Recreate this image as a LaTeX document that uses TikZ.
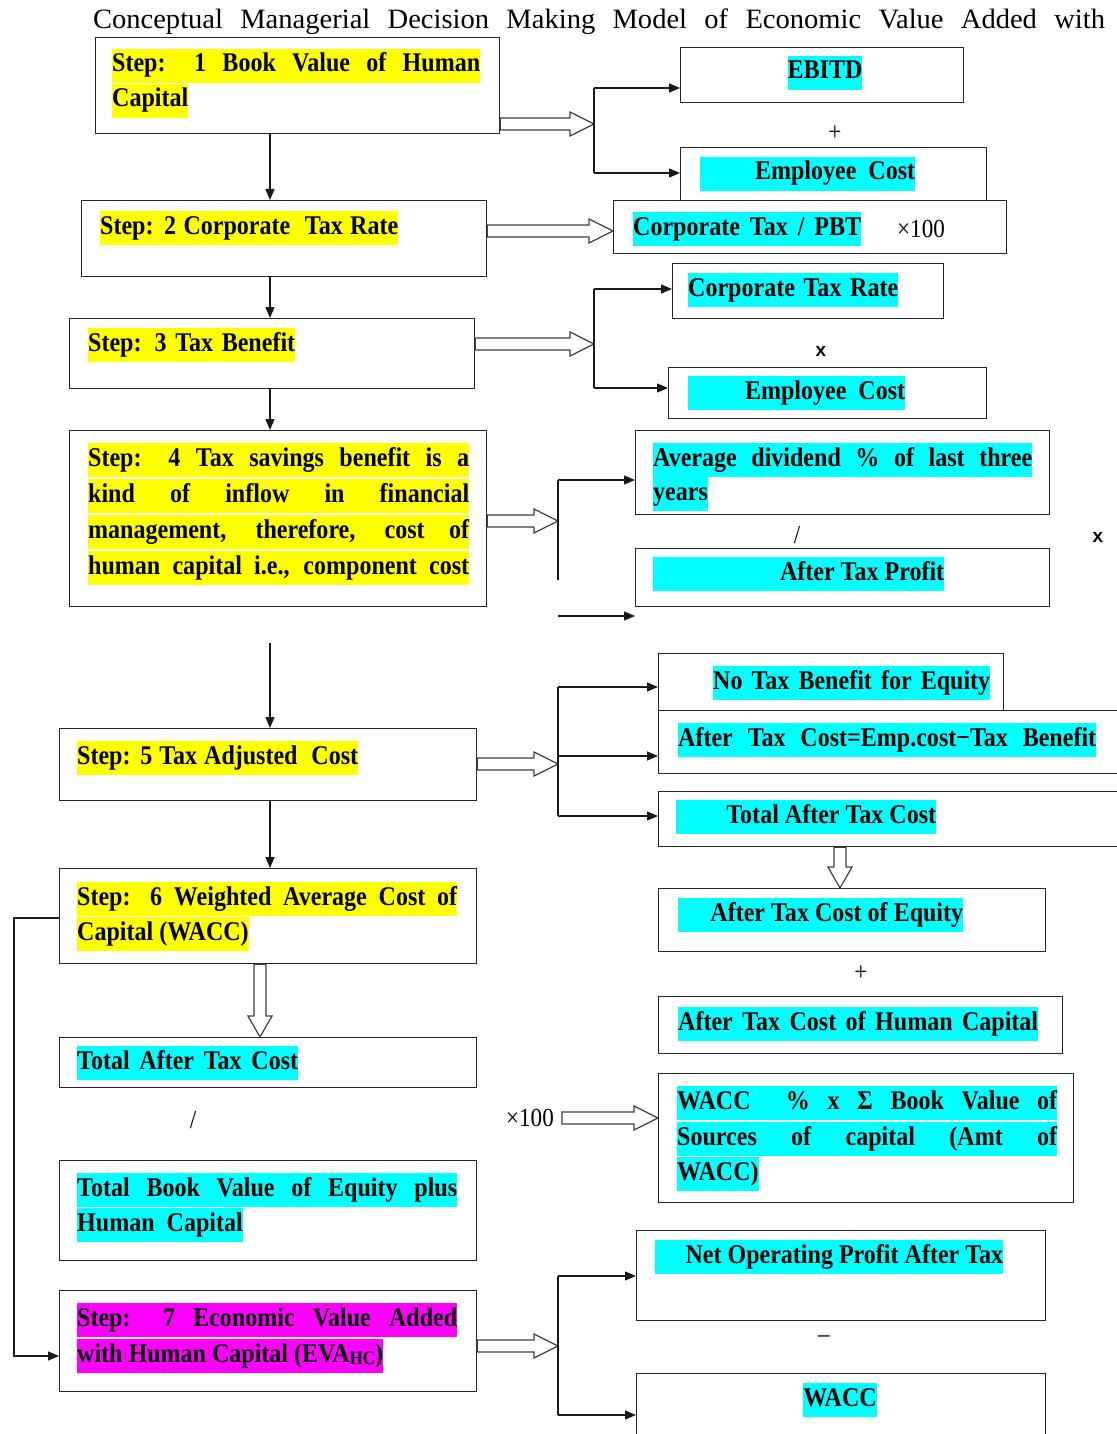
\documentclass[tikz,border=0pt]{standalone}
\usepackage{fontspec}
\setmainfont{Liberation Serif}[FakeStretch=0.89]
\newfontfamily\titlefont{Liberation Serif}[FakeStretch=1.02]
\newfontfamily\opfont{Liberation Sans}
\usetikzlibrary{arrows.meta,calc}
\definecolor{hyel}{RGB}{255,255,0}
\definecolor{hcya}{RGB}{0,255,255}
\definecolor{hmag}{RGB}{255,0,255}
\newcommand\mkbox[5]{\node[box, minimum width=#4pt, minimum height=#5pt] (#1) at (#2,#3) {};}
\newcommand\hollowR[2]{\draw[hollowst] let \p1=(#1), \p2=(#2) in
  (\x1,\y1+6pt) -- (\x2-24pt,\y1+6pt) -- (\x2-24pt,\y1+12pt) -- (\x2,\y1) --
  (\x2-24pt,\y1-12pt) -- (\x2-24pt,\y1-6pt) -- (\x1,\y1-6pt) -- cycle;}
\newcommand\hollowD[2]{\draw[hollowst] let \p1=(#1), \p2=(#2) in
  (\x1-6pt,\y1) -- (\x1-6pt,\y2+21pt) -- (\x1-12pt,\y2+21pt) -- (\x1,\y2) --
  (\x1+12pt,\y2+21pt) -- (\x1+6pt,\y2+21pt) -- (\x1+6pt,\y1) -- cycle;}
\begin{document}
\begin{tikzpicture}[x=1pt,y=-1pt,
  box/.style={draw=black!85, line width=1.3pt, fill=white, inner sep=0pt, anchor=north west},
  hl/.style={inner sep=0pt, anchor=west, minimum height=34pt, text height=18pt, text depth=6pt,
             font=\fontsize{27}{30}\selectfont\bfseries},
  hy/.style={hl, fill=hyel}, hc/.style={hl, fill=hcya}, hm/.style={hl, fill=hmag},
  op/.style={inner sep=0pt, font=\fontsize{26}{28}\selectfont},
  xop/.style={inner sep=0pt, font=\opfont\bfseries\fontsize{19}{20}\selectfont},
  arr/.style={draw=black!90, line width=1.3pt, -{Triangle[length=11pt,width=9pt]}},
  ln/.style={draw=black!90, line width=1.3pt},
  hollowst/.style={draw=black!75, line width=1.2pt, fill=white, line join=miter}]
\useasboundingbox (0,0) rectangle (1116,1434);

% title
\node[inner sep=0pt, font=\titlefont\fontsize{28}{30}\selectfont] (title) at (599,22)
  {\makebox[1012pt][s]{Conceptual Managerial Decision Making Model of Economic Value Added with}};

% left boxes
\mkbox{b1}{95}{37}{404}{96}
\mkbox{b2}{81}{200}{405}{76}
\mkbox{b3}{69}{318}{405}{70}
\mkbox{b4}{69}{430}{417}{176}
\mkbox{b5}{59}{728}{417}{72}
\mkbox{b6}{59}{868}{417}{95}
\mkbox{b7}{59}{1037}{417}{50}
\mkbox{b8}{59}{1160}{417}{100}
\mkbox{b9}{59}{1290}{417}{101}

% right boxes
\mkbox{r1}{680}{47}{283}{55}
\mkbox{r2}{680}{147}{306}{53}
\mkbox{r3}{613}{200}{393}{53}
\mkbox{r4}{672}{263}{271}{55}
\mkbox{r5}{668}{367}{318}{51}
\mkbox{r6}{635}{430}{414}{84}
\mkbox{r7}{635}{548}{414}{58}
\mkbox{r8}{658}{653}{345}{57}
\mkbox{r9}{658}{710}{470}{63}
\mkbox{r10}{658}{791}{470}{55}
\mkbox{r11}{658}{888}{387}{63}
\mkbox{r12}{658}{996}{404}{57}
\mkbox{r13}{658}{1073}{415}{129}
\mkbox{r14}{636}{1230}{409}{90}
\mkbox{r15}{636}{1373}{409}{90}

% left texts
\node[hy] (t1a) at (112,66) {\makebox[368pt][s]{Step: 1 Book Value of Human}};
\node[hy] (t1b) at (112,101) {Capital};
\node[hy] (t2) at (100,228) {\makebox[298pt][s]{Step: 2 Corporate\ \ Tax Rate}};
\node[hy] (t3) at (88,345) {\makebox[207pt][s]{Step: 3 Tax Benefit}};
\node[hy] (t4a) at (88,460) {\makebox[381pt][s]{Step: 4 Tax savings benefit is a}};
\node[hy] (t4b) at (88,496) {\makebox[381pt][s]{kind of inflow in financial}};
\node[hy] (t4c) at (88,532) {\makebox[381pt][s]{management, therefore, cost of}};
\node[hy] (t4d) at (88,568) {\makebox[381pt][s]{human capital i.e., component cost}};
\node[hy] (t5) at (77,758) {\makebox[281pt][s]{Step: 5 Tax Adjusted\ \ Cost}};
\node[hy] (t6a) at (77,899) {\makebox[380pt][s]{Step: 6 Weighted Average Cost of}};
\node[hy] (t6b) at (77,934) {Capital (WACC)};
\node[hc] (t7) at (77,1063) {\makebox[221pt][s]{Total After Tax Cost}};
\node[hc] (t8a) at (77,1190) {\makebox[380pt][s]{Total Book Value of Equity plus}};
\node[hc] (t8b) at (77,1225) {Human\ \ Capital};
\node[hm] (t9a) at (77,1320) {\makebox[380pt][s]{Step: 7 Economic Value Added}};
\node[hm] (t9b) at (77,1356) {with Human Capital (EVA{\fontsize{19}{19}\selectfont\raisebox{-2pt}{HC}})};

% right texts
\node[hc, anchor=center] (s1) at (825,73) {EBITD};
\node[hc] (s2) at (700,174) {\makebox[215pt][r]{Employee\ \ Cost}};
\node[hc] (s3) at (633,229) {\makebox[228pt][s]{Corporate Tax / PBT}};
\node[op] (s3x) at (921,229) {×100};
\node[hc] (s4) at (688,290) {\makebox[210pt][s]{Corporate Tax Rate}};
\node[xop] (o1) at (821,351) {x};
\node[hc] (s5) at (688,393) {\makebox[217pt][r]{Employee\ \ Cost}};
\node[hc] (s6a) at (653,460) {\makebox[379pt][s]{Average dividend \% of last three}};
\node[hc] (s6b) at (653,494) {years};
\node[op] (o2) at (797,535) {/};
\node[xop] (o3) at (1098,537) {x};
\node[hc] (s7) at (653,574) {\makebox[291pt][r]{After Tax Profit}};
\node[hc] (s8) at (713,683) {\makebox[277pt][s]{No Tax Benefit for Equity}};
\node[hc] (s9) at (678,740) {\makebox[418pt][s]{After Tax Cost=Emp.cost−Tax Benefit}};
\node[hc] (s10) at (676,817) {\makebox[260pt][r]{Total After Tax Cost}};
\node[hc] (s11) at (678,915) {\makebox[285pt][r]{After Tax Cost of Equity}};
\node[op] (o4) at (861,973) {+};
\node[hc] (s12) at (678,1024) {\makebox[360pt][s]{After Tax Cost of Human Capital}};
\node[hc] (s13a) at (677,1103) {\makebox[380pt][s]{WACC\ \ \% x Σ Book Value of}};
\node[hc] (s13b) at (677,1139) {\makebox[380pt][s]{Sources of capital (Amt of}};
\node[hc] (s13c) at (677,1174) {WACC)};
\node[hc] (s14) at (655,1257) {\makebox[348pt][r]{Net Operating Profit After Tax}};
\node[op] (o5) at (824,1339) {–};
\node[hc, anchor=center] (s15) at (840,1400) {WACC};
\node[op] (o6) at (835,133) {+};
\node[op] (o7) at (193,1120) {/};
\node[op] (x100b) at (530,1118) {×100};

% left column connectors
\coordinate (cx) at (270,0);
\draw[arr] (b1.south -| cx) -- (b2.north -| cx);
\draw[arr] (b2.south -| cx) -- (b3.north -| cx);
\draw[arr] (b3.south -| cx) -- (b4.north -| cx);
\coordinate (g4) at (270,643);
\draw[arr] (g4) -- (b5.north -| g4);
\draw[arr] (b5.south -| cx) -- (b6.north -| cx);
\coordinate (cx6) at (260,0);
\hollowD{b6.south -| cx6}{b7.north -| cx6}
\coordinate (l1) at (14,918);
\coordinate (l2) at (14,1356);
\draw[arr] (b6.west |- l1) -- (l1) -- (l2) -- (b9.west |- l2);

% branch 1
\coordinate (k1) at (594,124);
\coordinate (k1t) at (594,88);
\coordinate (k1b) at (594,173);
\hollowR{b1.east |- k1}{k1}
\draw[ln] (k1t) -- (k1b);
\draw[arr] (k1t) -- (r1.west |- k1t);
\draw[arr] (k1b) -- (r2.west |- k1b);

% step 2 arrow
\coordinate (y2) at (0,231);
\hollowR{b2.east |- y2}{r3.west |- y2}

% branch 3
\coordinate (k3) at (594,344);
\coordinate (k3t) at (594,289);
\coordinate (k3b) at (594,388);
\hollowR{b3.east |- k3}{k3}
\draw[ln] (k3t) -- (k3b);
\draw[arr] (k3t) -- (r4.west |- k3t);
\draw[arr] (k3b) -- (r5.west |- k3b);

% branch 4
\coordinate (k4) at (558,521);
\coordinate (k4t) at (558,480);
\coordinate (k4b) at (558,580);
\hollowR{b4.east |- k4}{k4}
\draw[ln] (k4t) -- (k4b);
\draw[arr] (k4t) -- (r6.west |- k4t);
\coordinate (a4s) at (558,616);
\coordinate (a4e) at (635,616);
\draw[arr] (a4s) -- (a4e);

% branch 5
\coordinate (k5) at (558,764);
\coordinate (k5t) at (558,687);
\coordinate (k5m) at (558,756);
\coordinate (k5b) at (558,816);
\hollowR{b5.east |- k5}{k5}
\draw[ln] (k5t) -- (k5b);
\draw[arr] (k5t) -- (r8.west |- k5t);
\draw[arr] (k5m) -- (r9.west |- k5m);
\draw[arr] (k5b) -- (r10.west |- k5b);

% right column hollow arrows
\coordinate (cx10) at (840,0);
\hollowD{r10.south -| cx10}{r11.north -| cx10}
\hollowR{[xshift=8pt]x100b.east}{r13.west |- x100b}

% branch 9
\coordinate (k9) at (558,1346);
\coordinate (k9t) at (558,1276);
\coordinate (k9b) at (558,1415);
\hollowR{b9.east |- k9}{k9}
\draw[ln] (k9t) -- (k9b);
\draw[arr] (k9t) -- (r14.west |- k9t);
\draw[arr] (k9b) -- (r15.west |- k9b);
\end{tikzpicture}
\end{document}
